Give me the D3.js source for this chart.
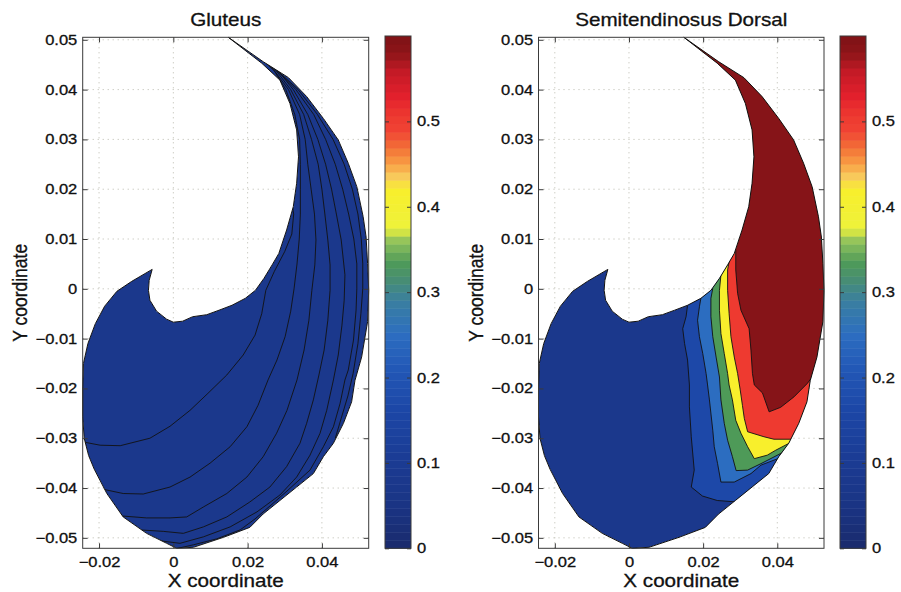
<!DOCTYPE html>
<html>
<head>
<meta charset="utf-8">
<script src="https://cdn.jsdelivr.net/npm/d3@7"></script>
<style>
  html, body { margin: 0; padding: 0; background: #fff; }
  svg { display: block; }
  text { font-family: "Liberation Sans", Arial, Helvetica, sans-serif; fill: #111; stroke: #111; stroke-width: 0.3px; }
</style>
</head>
<body>
<svg id="chart" width="901" height="592"></svg>
<script>
// Muscle cross-section outline (x, y in metres), clockwise from the top tip
const outline = [
  [0.0148, 0.0505], [0.0242, 0.0456], [0.0310, 0.0424], [0.0359, 0.0386], [0.0404, 0.0342],
  [0.0444, 0.0299], [0.0471, 0.0252], [0.0494, 0.0205], [0.0511, 0.0145], [0.0519, 0.0104],
  [0.0523, 0.0051], [0.0526, -0.0003], [0.0523, -0.0066], [0.0507, -0.0137], [0.0489, -0.0184],
  [0.0480, -0.0227], [0.0458, -0.0270], [0.0431, -0.0310], [0.0404, -0.0337], [0.0377, -0.0371],
  [0.0332, -0.0398], [0.0287, -0.0425], [0.0242, -0.0452], [0.0206, -0.0479], [0.0135, -0.0499],
  [0.0054, -0.0519], [0.0009, -0.0521], [-0.0018, -0.0511], [-0.0072, -0.0491], [-0.0135, -0.0458],
  [-0.0179, -0.0411], [-0.0213, -0.0362], [-0.0228, -0.0335], [-0.0240, -0.0300], [-0.0244, -0.0257],
  [-0.0244, -0.0203], [-0.0242, -0.0150], [-0.0230, -0.0110], [-0.0210, -0.0070], [-0.0185, -0.0035],
  [-0.0152, -0.0005], [-0.0112, 0.0015], [-0.0057, 0.0039], [-0.0065, 0.0017], [-0.0067, -0.0003],
  [-0.0063, -0.0023], [-0.0045, -0.0045], [-0.0018, -0.0061], [0.0000, -0.0067], [0.0025, -0.0065],
  [0.0052, -0.0056], [0.0090, -0.0052], [0.0123, -0.0043], [0.0158, -0.0033], [0.0194, -0.0019],
  [0.0221, -0.0003], [0.0244, 0.0021], [0.0266, 0.0048], [0.0284, 0.0071], [0.0305, 0.0118],
  [0.0323, 0.0165], [0.0332, 0.0212], [0.0337, 0.0265], [0.0332, 0.0319], [0.0314, 0.0372],
  [0.0287, 0.0419], [0.0238, 0.0453]
];

// Gluteus: all values sit in the lowest colour band; iso-lines only
const gluteusFloor = 0.08;
const gluteusContours = [
  [[-0.0246, -0.0307], [-0.0197, -0.0314], [-0.0143, -0.0315], [-0.0063, -0.0300], [-0.0009, -0.0276],
   [0.0045, -0.0244], [0.0093, -0.0210], [0.0144, -0.0173], [0.0188, -0.0133], [0.0220, -0.0093],
   [0.0238, -0.0050], [0.0249, -0.0003], [0.0272, 0.0035], [0.0300, 0.0075], [0.0319, 0.0110],
   [0.0324, 0.0150], [0.0320, 0.0170]],
  [[-0.0192, -0.0402], [-0.0135, -0.0411], [-0.0081, -0.0412], [-0.0009, -0.0398], [0.0045, -0.0378],
   [0.0099, -0.0350], [0.0153, -0.0317], [0.0198, -0.0277], [0.0228, -0.0234], [0.0255, -0.0183],
   [0.0279, -0.0143], [0.0301, -0.0096], [0.0316, -0.0045], [0.0325, 0.0000], [0.0333, 0.0050],
   [0.0339, 0.0100], [0.0342, 0.0150], [0.0342, 0.0200], [0.0342, 0.0250], [0.0340, 0.0300],
   [0.0327, 0.0350], [0.0303, 0.0400], [0.0270, 0.0440], [0.0242, 0.0458]],
  [[-0.0140, -0.0456], [-0.0072, -0.0460], [-0.0009, -0.0460], [0.0036, -0.0458], [0.0081, -0.0438],
   [0.0144, -0.0411], [0.0198, -0.0378], [0.0242, -0.0337], [0.0278, -0.0290], [0.0306, -0.0244],
   [0.0333, -0.0183], [0.0352, -0.0123], [0.0365, -0.0063], [0.0373, -0.0003], [0.0381, 0.0048],
   [0.0384, 0.0098], [0.0380, 0.0150], [0.0371, 0.0200], [0.0362, 0.0250], [0.0355, 0.0300],
   [0.0340, 0.0350], [0.0310, 0.0400], [0.0275, 0.0435], [0.0245, 0.0458]],
  [[-0.0092, -0.0484], [-0.0027, -0.0487], [0.0027, -0.0491], [0.0081, -0.0478], [0.0144, -0.0458],
   [0.0206, -0.0428], [0.0260, -0.0398], [0.0305, -0.0357], [0.0341, -0.0310], [0.0359, -0.0270],
   [0.0377, -0.0223], [0.0392, -0.0173], [0.0406, -0.0123], [0.0416, -0.0063], [0.0422, -0.0003],
   [0.0422, 0.0048], [0.0416, 0.0098], [0.0408, 0.0150], [0.0400, 0.0200], [0.0390, 0.0250],
   [0.0372, 0.0300], [0.0351, 0.0350], [0.0316, 0.0400], [0.0278, 0.0437], [0.0248, 0.0458]],
  [[-0.0045, -0.0505], [0.0018, -0.0511], [0.0081, -0.0498], [0.0153, -0.0478], [0.0225, -0.0448],
   [0.0287, -0.0414], [0.0332, -0.0378], [0.0368, -0.0334], [0.0395, -0.0290], [0.0413, -0.0244],
   [0.0431, -0.0183], [0.0444, -0.0133], [0.0454, -0.0073], [0.0460, -0.0023], [0.0462, 0.0028],
   [0.0452, 0.0098], [0.0439, 0.0150], [0.0426, 0.0200], [0.0410, 0.0250], [0.0389, 0.0300],
   [0.0362, 0.0350], [0.0323, 0.0400], [0.0282, 0.0438], [0.0250, 0.0457]],
  [[0.0000, -0.0523], [0.0054, -0.0514], [0.0117, -0.0502], [0.0180, -0.0484], [0.0220, -0.0462],
   [0.0268, -0.0431], [0.0309, -0.0404], [0.0368, -0.0364], [0.0404, -0.0317], [0.0431, -0.0277],
   [0.0449, -0.0230], [0.0462, -0.0183], [0.0471, -0.0163], [0.0485, -0.0103], [0.0492, -0.0043],
   [0.0494, 0.0000], [0.0494, 0.0050], [0.0486, 0.0100], [0.0472, 0.0150], [0.0456, 0.0200],
   [0.0436, 0.0250], [0.0410, 0.0300], [0.0378, 0.0350], [0.0330, 0.0400], [0.0288, 0.0432],
   [0.0252, 0.0456]],
  [[0.0436, -0.0300], [0.0452, -0.0260], [0.0470, -0.0215], [0.0484, -0.0170], [0.0497, -0.0110],
   [0.0505, -0.0050], [0.0510, 0.0000], [0.0510, 0.0050], [0.0506, 0.0100], [0.0497, 0.0150],
   [0.0482, 0.0200], [0.0460, 0.0250], [0.0430, 0.0300], [0.0388, 0.0350], [0.0336, 0.0400],
   [0.0292, 0.0430], [0.0255, 0.0455]]
];

// Semitendinosus dorsal: contour levels and their iso-lines
// (each line runs from the inner edge to the lower-right edge; higher values lie to its right)
const dorsalFloor = 0.08;
const dorsalLevels = [0.165, 0.25, 0.335, 0.42, 0.505, 0.59];
const dorsalContours = [
  [[0.0158, -0.0033], [0.0154, -0.0056], [0.0145, -0.0080], [0.0150, -0.0110], [0.0158, -0.0143],
   [0.0163, -0.0193], [0.0163, -0.0237], [0.0168, -0.0297], [0.0176, -0.0364], [0.0168, -0.0398],
   [0.0198, -0.0416], [0.0238, -0.0425], [0.0290, -0.0428]],
  [[0.0194, -0.0019], [0.0190, -0.0036], [0.0185, -0.0063], [0.0190, -0.0096], [0.0199, -0.0130],
   [0.0208, -0.0170], [0.0212, -0.0193], [0.0217, -0.0223], [0.0226, -0.0284], [0.0230, -0.0317],
   [0.0239, -0.0351], [0.0248, -0.0388], [0.0284, -0.0388], [0.0329, -0.0371], [0.0356, -0.0354],
   [0.0405, -0.0340]],
  [[0.0226, 0.0001], [0.0221, -0.0019], [0.0221, -0.0056], [0.0226, -0.0096], [0.0235, -0.0137],
   [0.0244, -0.0177], [0.0248, -0.0223], [0.0257, -0.0270], [0.0266, -0.0304], [0.0279, -0.0337],
   [0.0289, -0.0365], [0.0320, -0.0364], [0.0356, -0.0351], [0.0416, -0.0328]],
  [[0.0248, 0.0028], [0.0244, -0.0003], [0.0244, -0.0043], [0.0248, -0.0090], [0.0257, -0.0130],
   [0.0266, -0.0170], [0.0270, -0.0193], [0.0279, -0.0223], [0.0288, -0.0264], [0.0302, -0.0290],
   [0.0320, -0.0317], [0.0338, -0.0341], [0.0373, -0.0334], [0.0396, -0.0324], [0.0432, -0.0310]],
  [[0.0270, 0.0054], [0.0266, 0.0038], [0.0266, -0.0003], [0.0270, -0.0049], [0.0275, -0.0096],
   [0.0284, -0.0137], [0.0293, -0.0170], [0.0300, -0.0203], [0.0306, -0.0234], [0.0311, -0.0260],
   [0.0320, -0.0287], [0.0364, -0.0297], [0.0391, -0.0302], [0.0440, -0.0302]],
  [[0.0288, 0.0078], [0.0288, 0.0038], [0.0293, -0.0009], [0.0302, -0.0043], [0.0324, -0.0080],
   [0.0329, -0.0123], [0.0333, -0.0170], [0.0338, -0.0193], [0.0360, -0.0209], [0.0378, -0.0247],
   [0.0409, -0.0238], [0.0445, -0.0217], [0.0481, -0.0190], [0.0493, -0.0178]]
];

// Axes ranges and ticks
const xDomain = [-0.0244, 0.0526];
const yDomain = [-0.0521, 0.0505];
const barDomain = [0, 0.6];
const xTicks = [-0.02, 0, 0.02, 0.04];
const yTicks = [-0.05, -0.04, -0.03, -0.02, -0.01, 0, 0.01, 0.02, 0.03, 0.04, 0.05];
const barTicks = [0, 0.1, 0.2, 0.3, 0.4, 0.5];
const barSteps = 64;

// Colour map (value -> colour) used by the fills and the colour bars
const colourValues = [0, 0.05, 0.10, 0.16, 0.21, 0.25, 0.29, 0.315, 0.335, 0.36, 0.375,
                      0.42, 0.435, 0.45, 0.47, 0.49, 0.505, 0.53, 0.56, 0.58, 0.60];
const colourHexes = ['#1a2a6c', '#1a3484', '#1b3b92', '#1c46a6', '#2257b6', '#2c6dc0', '#3a7fa0',
                     '#488e72', '#4e9a58', '#90c25c', '#eef23a', '#f8ef2c', '#f8cc5c', '#f8a044',
                     '#f26e36', '#f04234', '#ee3a30', '#e2202c', '#c21a26', '#8e1519', '#7e1216'];

const colour = d3.scaleLinear().domain(colourValues).range(colourHexes)
  .interpolate(d3.interpolateRgb).clamp(true);

// ---- layout ----
const svg = d3.select('#chart');
const stretch = 1.18;            // glyphs are drawn slightly wide
const plotTop = 37.3, plotBottom = 548.3;
const barTop = 36, barBottom = 548.3;
const ink = '#3a3a3a';

const panels = [
  { id: 'glut', title: 'Gluteus', left: 82.7, right: 368.7, bar: [385, 411], ylabX: 26.7 },
  { id: 'semi', title: 'Semitendinosus Dorsal', left: 538.5, right: 824, bar: [840, 866], ylabX: 483 }
];

const tickFmt = d => d === 0 ? '0' : d3.format('.2f')(d);
const barFmt = d => d === 0 ? '0' : d3.format('.1f')(d);

function distToSegment(p, a, b) {
  const dx = b[0] - a[0], dy = b[1] - a[1];
  const len = dx * dx + dy * dy;
  let t = len ? ((p[0] - a[0]) * dx + (p[1] - a[1]) * dy) / len : 0;
  t = Math.max(0, Math.min(1, t));
  return Math.hypot(a[0] + t * dx - p[0], a[1] + t * dy - p[1]);
}
function segmentIndex(p) {
  let best = 0, bestD = Infinity;
  outline.forEach((a, i) => {
    const d = distToSegment(p, a, outline[(i + 1) % outline.length]);
    if (d < bestD) { bestD = d; best = i; }
  });
  return best;
}
// Region above a contour level: the iso-line closed along the high-valued part of the outline
function superLevelRing(line) {
  const n = outline.length;
  const j = segmentIndex(line[line.length - 1]);
  const k = (segmentIndex(line[0]) + 1) % n;
  const ring = line.slice();
  for (let i = j; ; i = (i - 1 + n) % n) {
    ring.push(outline[i]);
    if (i === k) break;
  }
  return ring;
}

function styleAxis(g, size) {
  g.select('.domain').remove();
  g.selectAll('.tick line').attr('stroke', ink).attr('stroke-width', 1);
  g.selectAll('.tick text')
    .attr('font-size', size)
    .attr('font-family', '"Liberation Sans", Arial, sans-serif')
    .attr('fill', '#111')
    .attr('transform', `scale(${stretch},1)`);
}

panels.forEach(p => {
  const x = d3.scaleLinear().domain(xDomain).range([p.left, p.right]);
  const y = d3.scaleLinear().domain(yDomain).range([plotBottom, plotTop]);
  const line = d3.line().x(d => x(d[0])).y(d => y(d[1]));
  const g = svg.append('g');

  // dotted grid
  const grid = g.append('g').attr('stroke', '#b9b9ad').attr('stroke-width', 1)
    .attr('stroke-dasharray', '1,4');
  grid.selectAll('line.gx').data(xTicks).join('line')
    .attr('x1', d => x(d)).attr('x2', d => x(d)).attr('y1', plotTop).attr('y2', plotBottom);
  grid.selectAll('line.gy').data(yTicks).join('line')
    .attr('x1', p.left).attr('x2', p.right).attr('y1', d => y(d)).attr('y2', d => y(d));

  // clip everything inside the cross-section
  svg.append('clipPath').attr('id', 'clip-' + p.id)
    .append('path').attr('d', line(outline) + 'Z');
  const body = g.append('g').attr('clip-path', `url(#clip-${p.id})`);

  if (p.id === 'glut') {
    body.append('path').attr('d', line(outline) + 'Z').attr('fill', colour(gluteusFloor));
    body.selectAll('path.iso').data(gluteusContours).join('path').attr('class', 'iso')
      .attr('d', d => line(d)).attr('fill', 'none').attr('stroke', '#121212')
      .attr('stroke-width', 0.9).attr('stroke-linejoin', 'round');
  } else {
    body.append('path').attr('d', line(outline) + 'Z').attr('fill', colour(dorsalFloor));
    body.selectAll('path.band').data(dorsalContours).join('path').attr('class', 'band')
      .attr('d', d => line(superLevelRing(d)) + 'Z')
      .attr('fill', (d, i) => colour(dorsalLevels[i]));
    body.selectAll('path.iso').data(dorsalContours).join('path').attr('class', 'iso')
      .attr('d', d => line(d)).attr('fill', 'none').attr('stroke', '#121212')
      .attr('stroke-width', 0.9).attr('stroke-linejoin', 'round');
  }
  // outline edge
  g.append('path').attr('d', line(outline) + 'Z').attr('fill', 'none')
    .attr('stroke', '#111').attr('stroke-width', 1).attr('stroke-linejoin', 'round');

  // axes: inward ticks on all four sides, labels bottom / left
  g.append('g').attr('transform', `translate(0,${plotBottom})`)
    .call(d3.axisBottom(x).tickValues(xTicks).tickFormat(tickFmt).tickSizeInner(-5).tickSizeOuter(0).tickPadding(8.5))
    .call(a => styleAxis(a, 14));
  g.append('g').attr('transform', `translate(0,${plotTop})`)
    .call(d3.axisTop(x).tickValues(xTicks).tickFormat('').tickSizeInner(-5).tickSizeOuter(0))
    .call(a => styleAxis(a, 14));
  g.append('g').attr('transform', `translate(${p.left},0)`)
    .call(d3.axisLeft(y).tickValues(yTicks).tickFormat(tickFmt).tickSizeInner(-5).tickSizeOuter(0).tickPadding(4.6))
    .call(a => styleAxis(a, 14));
  g.append('g').attr('transform', `translate(${p.right},0)`)
    .call(d3.axisRight(y).tickValues(yTicks).tickFormat('').tickSizeInner(-5).tickSizeOuter(0))
    .call(a => styleAxis(a, 14));
  g.append('rect').attr('x', p.left).attr('y', plotTop)
    .attr('width', p.right - p.left).attr('height', plotBottom - plotTop)
    .attr('fill', 'none').attr('stroke', ink).attr('stroke-width', 1);

  // colour bar
  const cb = d3.scaleLinear().domain(barDomain).range([barBottom, barTop]);
  const step = (barDomain[1] - barDomain[0]) / barSteps;
  const cells = d3.range(barSteps).map(i => barDomain[0] + i * step);
  g.append('g').selectAll('rect').data(cells).join('rect')
    .attr('x', p.bar[0]).attr('width', p.bar[1] - p.bar[0])
    .attr('y', d => cb(d + step)).attr('height', d => cb(d) - cb(d + step) + 0.5)
    .attr('fill', d => colour(d + step / 2));
  g.append('g').attr('transform', `translate(${p.bar[1]},0)`)
    .call(d3.axisRight(cb).tickValues(barTicks).tickFormat(barFmt).tickSizeInner(-4).tickSizeOuter(0).tickPadding(5))
    .call(a => styleAxis(a, 14));
  g.append('g').attr('transform', `translate(${p.bar[0]},0)`)
    .call(d3.axisLeft(cb).tickValues(barTicks).tickFormat('').tickSizeInner(-4).tickSizeOuter(0))
    .call(a => styleAxis(a, 14));
  g.append('rect').attr('x', p.bar[0]).attr('y', barTop)
    .attr('width', p.bar[1] - p.bar[0]).attr('height', barBottom - barTop)
    .attr('fill', 'none').attr('stroke', ink).attr('stroke-width', 1);

  // title and axis labels
  const cx = (p.left + p.right) / 2;
  g.append('text').attr('transform', `translate(${cx},26) scale(${stretch},1)`)
    .attr('text-anchor', 'middle').attr('font-size', 17.5).text(p.title);
  g.append('text').attr('transform', `translate(${cx},586.5) scale(${stretch},1)`)
    .attr('text-anchor', 'middle').attr('font-size', 17.5).text('X coordinate');
  g.append('text').attr('transform', `translate(${p.ylabX},${(plotTop + plotBottom) / 2}) scale(${stretch},1) rotate(-90)`)
    .attr('text-anchor', 'middle').attr('font-size', 17.5).text('Y coordinate');
});
</script>
</body>
</html>
